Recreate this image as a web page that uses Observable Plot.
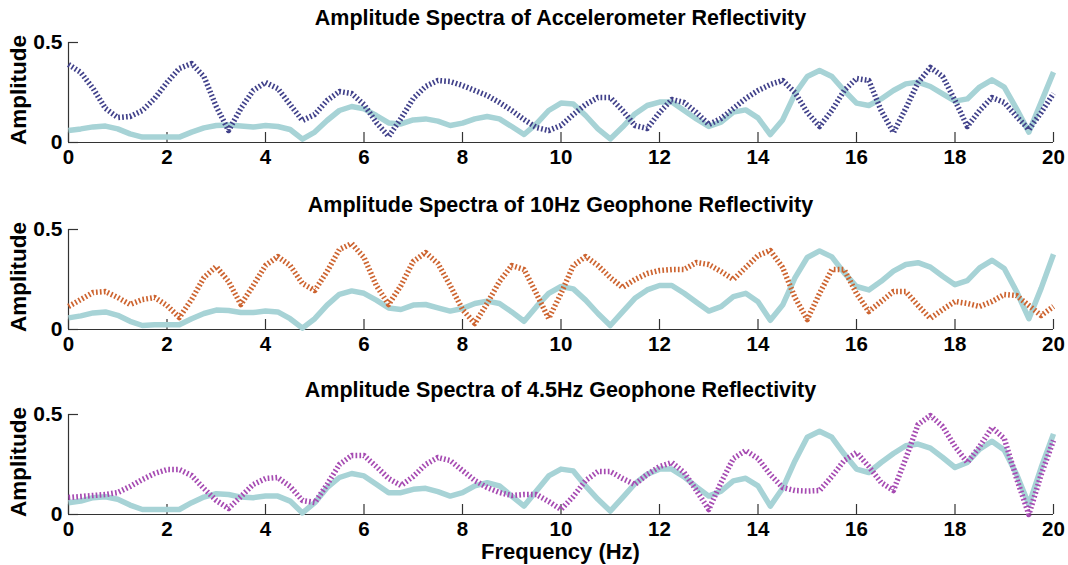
<!DOCTYPE html>
<html>
<head>
<meta charset="utf-8">
<script src="https://cdn.jsdelivr.net/npm/d3@7"></script>
<script src="https://cdn.jsdelivr.net/npm/@observablehq/plot@0.6"></script>
<style>
  html, body { margin: 0; padding: 0; background: #fff; }
  #root { position: relative; width: 1068px; height: 565px; font-family: "Liberation Sans", Arial, sans-serif; }
  .ttl { position: absolute; left: 68px; width: 985px; text-align: center; font-weight: bold; font-size: 21.5px; color: #000; line-height: 24px; }
  .panel { position: absolute; left: 0; }
  .ylab { position: absolute; font-weight: bold; font-size: 22.5px; transform: rotate(-90deg); transform-origin: center; width: 130px; text-align: center; line-height: 24px; }
  #xlab { position: absolute; left: 68px; width: 985px; top: 542px; text-align: center; font-weight: bold; font-size: 22px; line-height: 20px; }
</style>
</head>
<body>
<div id="root"></div>
<script>
// Frequency grid (Hz), 0.25 Hz step
const freq = [0,0.25,0.5,0.75,1,1.25,1.5,1.75,2,2.25,2.5,2.75,3,3.25,3.5,3.75,4,4.25,4.5,4.75,5,5.25,5.5,5.75,6,6.25,6.5,6.75,7,7.25,7.5,7.75,8,8.25,8.5,8.75,9,9.25,9.5,9.75,10,10.25,10.5,10.75,11,11.25,11.5,11.75,12,12.25,12.5,12.75,13,13.25,13.5,13.75,14,14.25,14.5,14.75,15,15.25,15.5,15.75,16,16.25,16.5,16.75,17,17.25,17.5,17.75,18,18.25,18.5,18.75,19,19.25,19.5,19.75,20];

const titles = [
  "Amplitude Spectra of Accelerometer Reflectivity",
  "Amplitude Spectra of 10Hz Geophone Reflectivity",
  "Amplitude Spectra of 4.5Hz Geophone Reflectivity"
];
const xTicks = [0,2,4,6,8,10,12,14,16,18,20];
const yTicks = [0,0.5];

// Solid (reference) spectrum as shown in each panel
const ref1 = [0.06,0.068,0.078,0.082,0.068,0.043,0.027,0.027,0.027,0.027,0.052,0.073,0.085,0.087,0.082,0.077,0.085,0.08,0.065,0.017,0.052,0.11,0.16,0.18,0.168,0.135,0.098,0.093,0.113,0.118,0.107,0.085,0.097,0.118,0.13,0.118,0.08,0.04,0.093,0.16,0.197,0.193,0.135,0.068,0.018,0.077,0.143,0.185,0.202,0.202,0.16,0.118,0.08,0.102,0.152,0.163,0.123,0.04,0.113,0.243,0.33,0.36,0.33,0.26,0.197,0.185,0.218,0.26,0.293,0.302,0.28,0.243,0.207,0.218,0.277,0.313,0.277,0.168,0.052,0.202,0.352];
const ref2 = [0.058,0.068,0.083,0.088,0.071,0.041,0.02,0.024,0.024,0.024,0.054,0.08,0.097,0.095,0.085,0.085,0.092,0.088,0.054,0.007,0.054,0.122,0.176,0.193,0.181,0.147,0.108,0.1,0.122,0.125,0.108,0.092,0.105,0.13,0.142,0.13,0.088,0.041,0.114,0.181,0.215,0.203,0.147,0.08,0.02,0.088,0.156,0.198,0.22,0.22,0.181,0.136,0.092,0.114,0.164,0.181,0.139,0.046,0.122,0.258,0.36,0.393,0.363,0.283,0.215,0.198,0.241,0.292,0.325,0.334,0.312,0.266,0.224,0.244,0.308,0.346,0.305,0.19,0.054,0.207,0.376];
const ref3 = [0.059,0.067,0.084,0.089,0.076,0.047,0.025,0.025,0.025,0.025,0.059,0.087,0.104,0.1,0.087,0.084,0.092,0.092,0.067,0.008,0.059,0.134,0.185,0.205,0.193,0.151,0.109,0.109,0.126,0.131,0.114,0.092,0.109,0.143,0.159,0.143,0.092,0.042,0.117,0.193,0.227,0.218,0.143,0.076,0.017,0.084,0.154,0.201,0.227,0.227,0.188,0.138,0.092,0.117,0.168,0.181,0.143,0.042,0.131,0.268,0.386,0.416,0.386,0.302,0.227,0.21,0.26,0.305,0.344,0.352,0.332,0.285,0.235,0.26,0.327,0.366,0.322,0.201,0.05,0.235,0.403];

// Dotted sensor spectra
const accel = [0.39,0.35,0.27,0.17,0.125,0.13,0.16,0.22,0.30,0.37,0.395,0.33,0.18,0.06,0.17,0.26,0.30,0.27,0.19,0.11,0.14,0.21,0.255,0.245,0.19,0.10,0.03,0.12,0.22,0.28,0.31,0.305,0.285,0.26,0.235,0.20,0.16,0.115,0.075,0.06,0.085,0.14,0.19,0.225,0.225,0.16,0.085,0.07,0.15,0.215,0.2,0.15,0.09,0.12,0.17,0.22,0.26,0.29,0.31,0.25,0.15,0.08,0.16,0.26,0.32,0.31,0.16,0.05,0.17,0.30,0.375,0.33,0.21,0.08,0.16,0.225,0.20,0.13,0.065,0.15,0.245];
const geo10 = [0.115,0.15,0.185,0.19,0.16,0.125,0.15,0.16,0.12,0.06,0.15,0.26,0.315,0.24,0.125,0.22,0.32,0.365,0.32,0.23,0.195,0.29,0.40,0.43,0.36,0.22,0.125,0.22,0.34,0.385,0.33,0.22,0.10,0.03,0.13,0.24,0.32,0.30,0.18,0.055,0.18,0.32,0.365,0.32,0.26,0.21,0.25,0.28,0.295,0.30,0.30,0.335,0.325,0.29,0.25,0.31,0.37,0.395,0.31,0.16,0.05,0.18,0.30,0.30,0.18,0.09,0.14,0.19,0.19,0.12,0.055,0.10,0.14,0.13,0.115,0.14,0.175,0.17,0.12,0.07,0.115];
const geo45 = [0.085,0.09,0.095,0.10,0.11,0.14,0.175,0.205,0.225,0.225,0.195,0.13,0.07,0.03,0.09,0.15,0.18,0.185,0.14,0.07,0.06,0.15,0.25,0.295,0.295,0.24,0.18,0.145,0.19,0.25,0.285,0.27,0.22,0.17,0.135,0.11,0.095,0.10,0.10,0.065,0.025,0.09,0.17,0.215,0.215,0.18,0.15,0.2,0.24,0.26,0.21,0.12,0.025,0.16,0.28,0.32,0.28,0.2,0.135,0.12,0.117,0.12,0.19,0.27,0.31,0.24,0.16,0.12,0.28,0.45,0.495,0.44,0.34,0.26,0.34,0.435,0.38,0.18,0.0,0.2,0.37];

const refColor = "#a7d3d6";
const dotColors = ["#41418a", "#cd6430", "#a64bb2"];
const panelTops = [30, 217, 402];
const titleTops = [6, 193, 378];

const root = document.getElementById("root");
const W = 1068, mL = 68, mR = 15, mT = 12, plotH = 100, mB = 26;

const refs = [ref1, ref2, ref3];
const dots = [accel, geo10, geo45];

for (let i = 0; i < 3; i++) {
  const solid = freq.map((f, j) => ({f, a: refs[i][j]}));
  const dotted = freq.map((f, j) => ({f, a: dots[i][j]}));
  const chart = Plot.plot({
    width: W,
    height: mT + plotH + mB,
    marginLeft: mL,
    marginRight: mR,
    marginTop: mT,
    marginBottom: mB,
    style: {fontFamily: "Liberation Sans, Arial, sans-serif", background: "transparent", overflow: "visible"},
    x: {domain: [0, 20]},
    y: {domain: [0, 0.5]},
    marks: [
      Plot.axisX(xTicks, {tickSize: 0, tickPadding: 7, fontSize: 20.5, fontWeight: "bold", fill: "#000", label: null}),
      Plot.axisY(yTicks, {tickSize: 0, tickPadding: 6, fontSize: 21, fontWeight: "bold", fill: "#000", label: null, tickFormat: d => d === 0 ? "0" : String(d)}),
      Plot.ruleY([0], {stroke: "#333", strokeWidth: 1.2}),
      Plot.ruleX([0], {stroke: "#333", strokeWidth: 1.2}),
      Plot.tickX(xTicks, {x: d => d, stroke: "#333", strokeWidth: 1.2, insetTop: plotH - 10}),
      Plot.tickY(yTicks, {y: d => d, stroke: "#333", strokeWidth: 1.2, insetRight: (W - mL - mR) - 10}),
      Plot.line(solid, {x: "f", y: "a", stroke: refColor, strokeWidth: 5.5, strokeLinejoin: "round", strokeLinecap: "butt"}),
      Plot.line(dotted, {x: "f", y: "a", stroke: dotColors[i], strokeWidth: 5.5, strokeDasharray: "1.7,2.2", strokeLinecap: "butt"})
    ]
  });
  chart.classList.add("panel");
  chart.style.top = panelTops[i] + "px";
  root.appendChild(chart);

  const t = document.createElement("div");
  t.className = "ttl";
  t.style.top = titleTops[i] + "px";
  t.textContent = titles[i];
  root.appendChild(t);

  const yl = document.createElement("div");
  yl.className = "ylab";
  yl.textContent = "Amplitude";
  yl.style.left = (19 - 65) + "px";
  yl.style.top = (panelTops[i] + mT + plotH / 2 - 2 - 12) + "px";
  root.appendChild(yl);
}

const xl = document.createElement("div");
xl.id = "xlab";
xl.textContent = "Frequency (Hz)";
root.appendChild(xl);
</script>
</body>
</html>
